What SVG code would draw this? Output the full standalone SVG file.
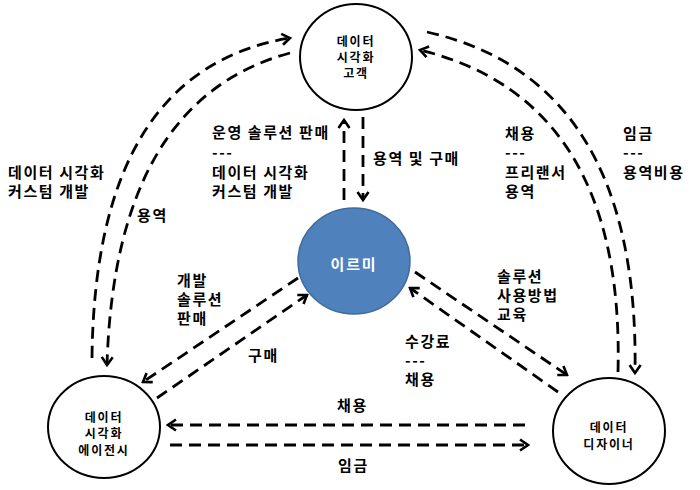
<svg xmlns="http://www.w3.org/2000/svg" width="700" height="490" viewBox="0 0 700 490">
<style>
.node{fill:#fff;stroke:#000;stroke-width:2}
.core{fill:#4f81bd;stroke:#3f6a9c;stroke-width:1.5}
.nt{font-family:"Noto Sans CJK KR","Noto Sans",sans-serif;font-weight:bold;font-size:12px;text-anchor:middle;fill:#000;letter-spacing:1.8px}
.lb{font-family:"Noto Sans CJK KR","Noto Sans",sans-serif;font-weight:bold;font-size:15px;fill:#000;letter-spacing:1.6px}
.ln{fill:none;stroke:#000;stroke-width:2.8;stroke-dasharray:12 7;marker-end:url(#ah)}
</style>
<defs>
<marker id="ah" viewBox="-11 -7 13 14" refX="0" refY="0" markerWidth="13" markerHeight="14" markerUnits="userSpaceOnUse" orient="auto">
<path d="M -8 -5.5 L 0 0 L -8 5.5" fill="none" stroke="#000" stroke-width="2.6"/>
</marker>
</defs>
<rect width="700" height="490" fill="#fff"/>
<g id="connectors">
<path class="ln" d="M 92 358 Q 95 70 290 38"/>
<path class="ln" d="M 290 53 Q 115 100 107 365"/>
<path class="ln" d="M 427 32 Q 640 80 635 373"/>
<path class="ln" d="M 618 372 Q 625 100 420 50"/>
<path class="ln" d="M 344 200 L 344 120"/>
<path class="ln" d="M 363 117 L 363 200"/>
<path class="ln" d="M 298 278 L 143 382"/>
<path class="ln" d="M 157 398 L 307 295"/>
<path class="ln" d="M 415 272 L 567 375"/>
<path class="ln" d="M 558 392 L 410 288"/>
<path class="ln" d="M 525 425 L 168 425"/>
<path class="ln" d="M 170 445 L 528 445"/>
</g>
<g id="labels">
<text class="lb" x="8" y="178"><tspan x="8">데이터 시각화</tspan><tspan x="8" y="197">커스텀 개발</tspan></text>
<text class="lb" x="137" y="221">용역</text>
<text class="lb" x="212" y="138"><tspan x="212">운영 솔루션 판매</tspan><tspan x="212" y="158">---</tspan><tspan x="212" y="178">데이터 시각화</tspan><tspan x="212" y="197">커스텀 개발</tspan></text>
<text class="lb" x="373" y="164">용역 및 구매</text>
<text class="lb" x="505" y="139"><tspan x="505">채용</tspan><tspan x="505" y="158">---</tspan><tspan x="505" y="178">프리랜서</tspan><tspan x="505" y="197">용역</tspan></text>
<text class="lb" x="623" y="139"><tspan x="623">임금</tspan><tspan x="623" y="158">---</tspan><tspan x="623" y="178">용역비용</tspan></text>
<text class="lb" x="177" y="286"><tspan x="177">개발</tspan><tspan x="177" y="305">솔루션</tspan><tspan x="177" y="324">판매</tspan></text>
<text class="lb" x="248" y="361">구매</text>
<text class="lb" x="497" y="282"><tspan x="497">솔루션</tspan><tspan x="497" y="301">사용방법</tspan><tspan x="497" y="320">교육</tspan></text>
<text class="lb" x="405" y="347"><tspan x="405">수강료</tspan><tspan x="405" y="366">---</tspan><tspan x="405" y="385">채용</tspan></text>
<text class="lb" x="337" y="411">채용</text>
<text class="lb" x="338" y="471">임금</text>
</g>
<g id="node-customer">
<ellipse class="node" cx="356" cy="57" rx="56" ry="53"/>
<text class="nt" x="356" y="46"><tspan x="356">데이터</tspan><tspan x="356" y="62">시각화</tspan><tspan x="356" y="78">고객</tspan></text>
</g>
<g id="node-irumi">
<ellipse class="core" cx="354" cy="261" rx="56" ry="53"/>
<text class="nt" x="354" y="270" style="fill:#fff;font-size:15px">이르미</text>
</g>
<g id="node-agency">
<ellipse class="node" cx="104" cy="427" rx="56" ry="51"/>
<text class="nt" x="104" y="422"><tspan x="104">데이터</tspan><tspan x="104" y="438">시각화</tspan><tspan x="104" y="455">에이전시</tspan></text>
</g>
<g id="node-designer">
<ellipse class="node" cx="609" cy="431" rx="56" ry="53"/>
<text class="nt" x="609" y="432"><tspan x="609">데이터</tspan><tspan x="609" y="449">디자이너</tspan></text>
</g>
</svg>
